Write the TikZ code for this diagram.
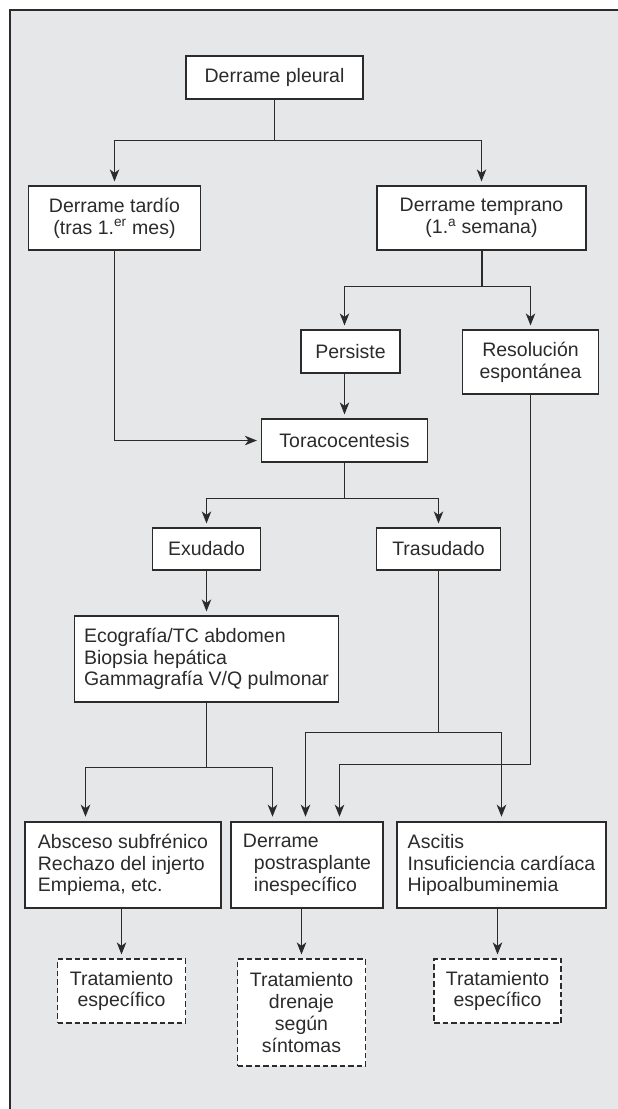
\documentclass[tikz,border=0pt]{standalone}
\usepackage{fontspec}
\setmainfont{Liberation Sans}
\usetikzlibrary{arrows.meta}
\definecolor{fondo}{HTML}{E6E7E9}
\definecolor{trazo}{HTML}{2B2B2B}
\begin{document}
\begin{tikzpicture}[x=1pt,y=-1pt,
  caja/.style={draw=trazo,fill=white,line width=1.2pt,inner sep=0pt,align=center,text=trazo,font=\fontsize{19.5}{21.7}\selectfont},
  cajaizq/.style={caja,align=left},
  gruesa/.style={cajaizq,line width=2.6pt},
  trat/.style={caja,dash pattern=on 5.5pt off 3pt},
  linea/.style={draw=trazo,line width=1.2pt},
  flecha/.style={linea,-{Stealth[length=12pt,width=9.5pt,inset=3.5pt]},shorten >=4pt}]
  \useasboundingbox (0,0) rectangle (618,1109);
  \fill[fondo] (10,10) rectangle (618,1109);
  \draw[trazo,line width=2pt] (10,1109) -- (10,10) -- (618,10);

  \node[caja,minimum width=177pt,minimum height=43pt] (pleural) at (274.5,77.5) {Derrame pleural};
  \node[caja,minimum width=172pt,minimum height=64pt] (tardio) at (114.5,218) {Derrame tardío\\(tras 1.\textsuperscript{er} mes)};
  \node[caja,minimum width=209pt,minimum height=64pt] (temprano) at (481.5,218) {Derrame temprano\\(1.\textsuperscript{a} semana)};
  \node[caja,minimum width=99pt,minimum height=43pt] (persiste) at (350.5,351.5) {Persiste};
  \node[caja,minimum width=136pt,minimum height=64pt] (resolucion) at (530.5,362) {Resolución\\espontánea};
  \node[caja,minimum width=166pt,minimum height=43pt] (toraco) at (344.5,440.5) {Toracocentesis};
  \node[caja,minimum width=108pt,minimum height=42pt] (exudado) at (206.5,549) {Exudado};
  \node[caja,minimum width=124pt,minimum height=42pt] (trasudado) at (438.5,549) {Trasudado};
  \node[cajaizq,minimum width=264pt,minimum height=86pt] (eco) at (206.5,659) {Ecografía/TC abdomen\\Biopsia hepática\\Gammagrafía V/Q pulmonar};
  \node[gruesa,minimum width=196pt,minimum height=86pt] (absceso) at (123,865) {Absceso subfrénico\\Rechazo del injerto\\Empiema, etc.};
  \node[gruesa,minimum width=152pt,minimum height=86pt] (post) at (307,865) {Derrame\\\hspace*{11pt}postrasplante\\\hspace*{11pt}inespecífico};
  \node[gruesa,minimum width=209pt,minimum height=86pt] (ascitis) at (501.5,865) {Ascitis\\Insuficiencia cardíaca\\Hipoalbuminemia};
  \node[trat,minimum width=128pt,minimum height=64pt] (trat1) at (121.5,991) {Tratamiento\\específico};
  \node[trat,minimum width=128pt,minimum height=107pt] (trat2) at (301.5,1012.5) {Tratamiento\\drenaje\\según\\síntomas};
  \node[trat,minimum width=127pt,minimum height=64pt] (trat3) at (497.5,991) {Tratamiento\\específico};

  \draw[linea] (pleural.south) -- ++(0,41) coordinate (r1);
  \draw[flecha] (r1) -| (tardio.north);
  \draw[flecha] (r1) -| (temprano.north);
  \draw[linea,line width=2pt] (temprano.south) -- ++(0,36) coordinate (r2);
  \draw[flecha] (r2) -| (persiste.north -| toraco.north);
  \draw[flecha] (r2) -| (resolucion.north);
  \draw[flecha] (persiste.south -| toraco.north) -- (toraco.north);
  \draw[flecha] (tardio.south) |- (toraco.west);
  \draw[linea] (toraco.south) -- ++(0,36) coordinate (r3);
  \draw[flecha] (r3) -| (exudado.north);
  \draw[flecha] (r3) -| (trasudado.north);
  \draw[flecha] (exudado.south) -- (exudado.south |- eco.north);
  \draw[linea] (eco.south) -- ++(0,65) coordinate (r4);
  \draw[flecha] (r4) -| ([xshift=61.8pt]absceso.north west);
  \draw[flecha] (r4) -| ([xshift=42.8pt]post.north west);
  \draw[linea] (trasudado.south) -- ++(0,162) coordinate (r5);
  \draw[flecha] (r5) -| ([xshift=75.8pt]post.north west);
  \draw[flecha] (r5) -| (ascitis.north);
  \draw[flecha] (resolucion.south) -- ++(0,370) -| ([xshift=109.8pt]post.north west);
  \draw[flecha] (trat1.north |- absceso.south) -- (trat1.north);
  \draw[flecha] (trat2.north |- post.south) -- (trat2.north);
  \draw[flecha] (trat3.north |- ascitis.south) -- (trat3.north);
\end{tikzpicture}
\end{document}
